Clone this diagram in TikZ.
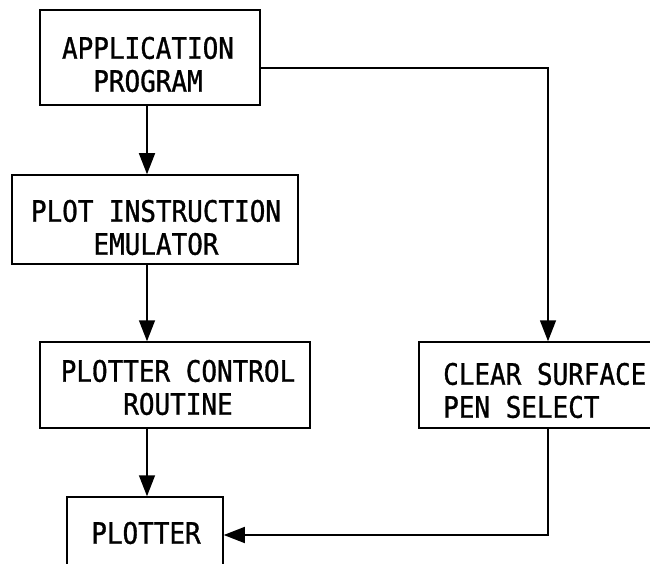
\documentclass[tikz,border=0pt]{standalone}
\usepackage{fontspec}
\setmonofont[FakeStretch=0.88,FakeBold=1]{DejaVu Sans Mono}
\usetikzlibrary{arrows.meta,calc}
\tikzset{
  boxnode/.style={draw=black, line width=1.5pt, inner sep=0pt},
  boxtext/.style={inner sep=0pt, align=center,
    font=\ttfamily\fontsize{29.5}{33}\selectfont},
  conn/.style={line width=1.5pt, -{Triangle[length=21pt,width=16pt]}},
}
\begin{document}
\begin{tikzpicture}[x=1pt,y=-1pt]
\useasboundingbox (0,0) rectangle (650,564);
\clip (0,0) rectangle (650,564);
\node[boxnode, minimum width=220pt, minimum height=95pt] (b1) at (150,57.5) {};
\node[boxnode, minimum width=286pt, minimum height=89pt] (b2) at (155,219.5) {};
\node[boxnode, minimum width=270pt, minimum height=86pt] (b3) at (175,385) {};
\node[boxnode, minimum width=260pt, minimum height=86pt, anchor=west] (b4) at (418,385) {};
\node[boxnode, minimum width=156pt, minimum height=93pt] (b5) at (145,543.5) {};
\node[boxtext] (t1) at (148,64.5) {APPLICATION\\PROGRAM};
\node[boxtext] (t2) at (156,227.5) {PLOT INSTRUCTION\\EMULATOR};
\node[boxtext] (t3) at (178,387.5) {PLOTTER CONTROL\\ROUTINE};
\node[boxtext, align=left, anchor=west] (t4) at (443,390.5) {CLEAR SURFACE\\PEN SELECT};
\node[boxtext] (t5) at (146,533) {PLOTTER};
\coordinate (c1) at (548,68);
\coordinate (c2) at (548,535);
\coordinate (vx) at (147,0);
\draw[conn] (b1.south -| vx) -- (b2.north -| vx);
\draw[conn] (b2.south -| vx) -- (b3.north -| vx);
\draw[conn] (b3.south -| vx) -- (b5.north -| vx);
\draw[conn] (b1.east |- c1) -- (c1) -- (c1 |- b4.north);
\draw[conn] (c2 |- b4.south) -- (c2) -- (b5.east |- c2);
\end{tikzpicture}
\end{document}
